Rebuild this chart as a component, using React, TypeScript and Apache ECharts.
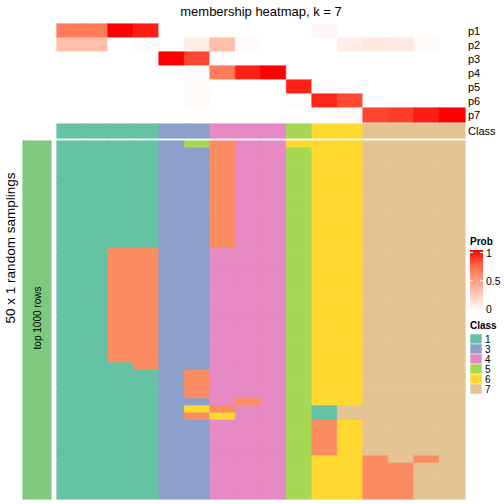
import React, { useEffect, useRef } from "react";
import * as echarts from "echarts";

// ---------- data ----------
const probRows = ["p1", "p2", "p3", "p4", "p5", "p6", "p7"];
const p1 = [0.66, 0.66, 1, 0.93, 0, 0, 0, 0, 0, 0, 0.04, 0, 0, 0, 0, 0];
const p2 = [0.33, 0.33, 0, 0.02, 0, 0.09, 0.33, 0.02, 0, 0, 0, 0.09, 0.12, 0.11, 0.03, 0];
const p3 = [0, 0, 0, 0, 1, 0.83, 0, 0, 0, 0, 0, 0, 0, 0, 0, 0];
const p4 = [0, 0, 0, 0, 0, 0, 0.66, 0.92, 1, 0, 0, 0, 0, 0, 0, 0];
const p5 = [0, 0, 0, 0, 0, 0.02, 0, 0, 0, 0.92, 0, 0, 0, 0, 0, 0];
const p6 = [0, 0, 0, 0, 0, 0.03, 0, 0, 0, 0.01, 0.91, 0.82, 0, 0, 0, 0];
const p7 = [0, 0, 0, 0, 0, 0, 0, 0, 0, 0, 0, 0.03, 0.83, 0.85, 0.93, 1];
const probMatrix = [p1, p2, p3, p4, p5, p6, p7];

const columnClass = [1, 1, 1, 1, 3, 3, 4, 4, 4, 5, 6, 6, 7, 7, 7, 7];
const legendClasses = [1, 3, 4, 5, 6, 7];
const probTicks = [1, 0.5, 0];

// each of the 50 samplings: class of each of the 16 columns
const samplings = [
  "1111352446667777",
  ...Array(14).fill("1111332445667777"),
  ...Array(16).fill("1122334445667777"),
  "1112334445667777",
  ...Array(4).fill("1111324445667777"),
  "1111334245667777",
  "1111362445177777",
  "1111326445177777",
  ...Array(5).fill("1111334445267777"),
  "1111334445662727",
  ...Array(5).fill("1111334445662277"),
];

// ---------- styles ----------
const FONT = "Liberation Sans";
const STRIP = 8; // code for the row-annotation strip
const classColors: Record<number, string> = {
  1: "#66C2A5",
  2: "#FC8D62",
  3: "#8DA0CB",
  4: "#E78AC3",
  5: "#A6D854",
  6: "#FFD92F",
  7: "#E5C494",
  8: "#7FC97F",
};
const probStops = ["#FFFFFF", "#FFCFBF", "#FF9E81", "#FF6746", "#FF0000"];

function hex(c: string) {
  return [1, 3, 5].map((i) => parseInt(c.slice(i, i + 2), 16));
}
function probColor(v: number) {
  const n = probStops.length - 1;
  const i = Math.min(Math.floor(v * n), n - 1);
  const t = v * n - i;
  const A = hex(probStops[i]);
  const B = hex(probStops[i + 1]);
  const r = A.map((x, k) => Math.round(x + (B[k] - x) * t));
  return `rgb(${r[0]},${r[1]},${r[2]})`;
}
function cell(x: number, y: number, v: number, color: string) {
  return {
    value: [x, y, v],
    itemStyle: { borderColor: color, borderWidth: 0.6 },
  };
}

const colCats = columnClass.map((_, i) => String(i + 1));
const L = 57;
const W = 408;

export default function App() {
  const ref = useRef<HTMLDivElement>(null);
  useEffect(() => {
    if (!ref.current) return;
    const chart = echarts.init(ref.current, undefined, { renderer: "svg" });

    const probData: any[] = [];
    probMatrix.forEach((row, r) =>
      row.forEach((v, c) => probData.push(cell(c, r, v, probColor(v))))
    );
    const classData = columnClass.map((k, c) => cell(c, 0, k, classColors[k]));
    const mainData: any[] = [];
    samplings.forEach((s, r) =>
      s.split("").forEach((ch, c) => {
        const k = Number(ch);
        mainData.push(cell(c, r, k, classColors[k]));
      })
    );

    const hiddenX = (gi: number) => ({
      type: "category",
      gridIndex: gi,
      data: colCats,
      show: false,
    });
    const labelAxis = {
      position: "right",
      axisLine: { show: false },
      axisTick: { show: false },
      axisLabel: { interval: 0, fontSize: 11, color: "#000", margin: 3, fontFamily: FONT },
      splitLine: { show: false },
    };

    const legendGraphics: any[] = [];
    legendGraphics.push({
      type: "text",
      x: 470,
      y: 241,
      z: 100,
      style: { text: "Prob", fontSize: 10, fontWeight: "bold", fontFamily: FONT, fill: "#000", textVerticalAlign: "middle" },
    });
    legendGraphics.push({
      type: "rect",
      z: 100,
      shape: { x: 470, y: 250, width: 13, height: 61 },
      style: {
        fill: new echarts.graphic.LinearGradient(
          0, 0, 0, 1,
          probStops.map((c, i) => ({ offset: 1 - i / (probStops.length - 1), color: c })).reverse()
        ),
      },
    });
    probTicks.forEach((t) => {
      const y = 309 - t * 56.5;
      if (t > 0) {
        legendGraphics.push({ type: "line", z: 101, shape: { x1: 470, y1: y, x2: 473, y2: y }, style: { stroke: "#fff", lineWidth: 1 } });
        legendGraphics.push({ type: "line", z: 101, shape: { x1: 480, y1: y, x2: 483, y2: y }, style: { stroke: "#fff", lineWidth: 1 } });
      }
      legendGraphics.push({
        type: "text",
        x: 486,
        y,
        z: 100,
        style: { text: String(t), fontSize: 10.5, fontFamily: FONT, fill: "#000", textVerticalAlign: "middle" },
      });
    });
    legendGraphics.push({
      type: "text",
      x: 470,
      y: 325,
      z: 100,
      style: { text: "Class", fontSize: 10, fontWeight: "bold", fontFamily: FONT, fill: "#000", textVerticalAlign: "middle" },
    });
    legendClasses.forEach((k, i) => {
      const y = 334 + i * 10;
      legendGraphics.push({
        type: "rect",
        z: 100,
        shape: { x: 470, y, width: 12, height: 10 },
        style: { fill: classColors[k], stroke: "#fff", lineWidth: 0.5 },
      });
      legendGraphics.push({
        type: "text",
        x: 485,
        y: y + 5,
        z: 100,
        style: { text: String(k), fontSize: 10, lineHeight: 9, fontFamily: FONT, fill: "#000", textVerticalAlign: "middle" },
      });
    });

    chart.setOption({
      animation: false,
      backgroundColor: "#fff",
      textStyle: { fontFamily: FONT },
      visualMap: [
        {
          type: "continuous",
          show: false,
          seriesIndex: 0,
          dimension: 2,
          min: 0,
          max: 1,
          inRange: { color: probStops },
        },
        {
          type: "piecewise",
          show: false,
          seriesIndex: [1, 2, 3],
          dimension: 2,
          pieces: Object.keys(classColors).map((k) => ({
            value: Number(k),
            color: classColors[Number(k)],
          })),
        },
      ],
      grid: [
        { left: L, top: 24, width: W, height: 98 },
        { left: L, top: 124, width: W, height: 14 },
        { left: L, top: 141, width: W, height: 358 },
        { left: 23, top: 141, width: 28, height: 358 },
      ],
      xAxis: [
        hiddenX(0),
        hiddenX(1),
        hiddenX(2),
        { type: "category", gridIndex: 3, data: ["s"], show: false },
      ],
      yAxis: [
        { type: "category", gridIndex: 0, data: probRows, inverse: true, ...labelAxis },
        { type: "category", gridIndex: 1, data: ["Class"], ...labelAxis },
        { type: "category", gridIndex: 2, data: samplings.map((_, i) => String(i + 1)), inverse: true, show: false },
        { type: "category", gridIndex: 3, data: ["r"], show: false },
      ],
      series: [
        { type: "heatmap", xAxisIndex: 0, yAxisIndex: 0, data: probData, emphasis: { disabled: true }, progressive: 0 },
        { type: "heatmap", xAxisIndex: 1, yAxisIndex: 1, data: classData, emphasis: { disabled: true }, progressive: 0 },
        { type: "heatmap", xAxisIndex: 2, yAxisIndex: 2, data: mainData, emphasis: { disabled: true }, progressive: 0 },
        {
          type: "heatmap",
          xAxisIndex: 3,
          yAxisIndex: 3,
          data: [cell(0, 0, STRIP, classColors[STRIP])],
          emphasis: { disabled: true },
        },
      ],
      graphic: [
        {
          type: "text",
          x: 261,
          y: 11,
          z: 100,
          style: {
            text: "membership heatmap, k = 7",
            fontSize: 13,
            fontFamily: FONT,
            fill: "#000",
            textAlign: "center",
            textVerticalAlign: "middle",
          },
        },
        {
          type: "text",
          x: 10,
          y: 248,
          z: 100,
          rotation: Math.PI / 2,
          style: {
            text: "50 x 1 random samplings",
            fontSize: 13.5,
            fontFamily: FONT,
            fill: "#000",
            textAlign: "center",
            textVerticalAlign: "middle",
          },
        },
        {
          type: "text",
          x: 37.5,
          y: 318,
          z: 100,
          rotation: Math.PI / 2,
          style: {
            text: "top 1000 rows",
            fontSize: 10,
            fontFamily: FONT,
            fill: "#000",
            textAlign: "center",
            textVerticalAlign: "middle",
          },
        },
        ...legendGraphics,
      ],
    });
    return () => chart.dispose();
  }, []);
  return (
    <div
      ref={ref}
      style={{ position: "absolute", left: 0, top: 0, width: 504, height: 504 }}
    />
  );
}
